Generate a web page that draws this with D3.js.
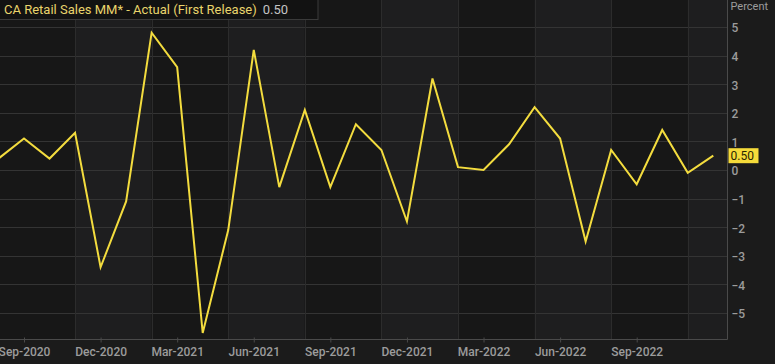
<!DOCTYPE html>
<html>
<head>
<meta charset="utf-8">
<script src="https://cdn.jsdelivr.net/npm/d3@7"></script>
<style>
  html, body { margin: 0; padding: 0; background: #1b1b1b; }
  svg { display: block; }
</style>
</head>
<body>
<svg id="chart" width="775" height="364"></svg>
<script>
// ---- data ----
const months = ["Aug-2020","Sep-2020","Oct-2020","Nov-2020","Dec-2020","Jan-2021","Feb-2021","Mar-2021","Apr-2021","May-2021","Jun-2021","Jul-2021","Aug-2021","Sep-2021","Oct-2021","Nov-2021","Dec-2021","Jan-2022","Feb-2022","Mar-2022","Apr-2022","May-2022","Jun-2022","Jul-2022","Aug-2022","Sep-2022","Oct-2022","Nov-2022","Dec-2022"];
const values = [0.4, 1.1, 0.4, 1.3, -3.4, -1.1, 4.8, 3.6, -5.7, -2.1, 4.2, -0.6, 2.1, -0.6, 1.6, 0.7, -1.8, 3.2, 0.1, 0.0, 0.9, 2.2, 1.1, -2.5, 0.7, -0.5, 1.4, -0.1, 0.5];
const tickLabels = ["Sep-2020","Dec-2020","Mar-2021","Jun-2021","Sep-2021","Dec-2021","Mar-2022","Jun-2022","Sep-2022"];
const yTicks = [-5,-4,-3,-2,-1,0,1,2,3,4,5];
const seriesName = "CA Retail Sales MM* - Actual (First Release)";
const lastLabel = "0.50";
const unitLabel = "Percent";

// ---- layout ----
const W = 775, H = 364;
const plot = {left: 0, right: 727.5, top: 0, bottom: 339.5};
const svg = d3.select("#chart");

const x = d3.scaleLinear().domain([1, 25]).range([24, 636.7]);
const y = d3.scaleLinear().domain([-5, 5]).range([313, 27]);

// background
svg.append("rect").attr("x",0).attr("y",0).attr("width",W).attr("height",H).attr("fill","#1b1b1b");

// alternating bands (boundaries every quarter, starting Nov-2020)
const bounds = [];
for (let i = 3; i <= months.length - 1; i += 3) bounds.push(i);
const edges = [plot.left, ...bounds.map(b => x(b)), plot.right];
for (let k = 0; k < edges.length - 1; k++) {
  svg.append("rect")
    .attr("x", edges[k]).attr("y", plot.top)
    .attr("width", edges[k+1] - edges[k]).attr("height", plot.bottom - plot.top)
    .attr("fill", k % 2 === 0 ? "#171717" : "#1e1e1f");
}

// horizontal grid
svg.append("g").selectAll("line").data(yTicks).join("line")
  .attr("x1", plot.left).attr("x2", plot.right)
  .attr("y1", d => Math.round(y(d)) + 0.5).attr("y2", d => Math.round(y(d)) + 0.5)
  .attr("stroke", "#343434").attr("stroke-width", 1);

// vertical band lines
svg.append("g").selectAll("line").data(bounds).join("line")
  .attr("x1", d => Math.round(x(d)) + 0.5).attr("x2", d => Math.round(x(d)) + 0.5)
  .attr("y1", plot.top).attr("y2", plot.bottom)
  .attr("stroke", "#2c2c2c").attr("stroke-width", 1);

// plot border right & bottom
svg.append("line").attr("x1", plot.right).attr("x2", plot.right)
  .attr("y1", plot.top).attr("y2", plot.bottom).attr("stroke", "#4a4a4a");
svg.append("line").attr("x1", plot.left).attr("x2", plot.right)
  .attr("y1", plot.bottom).attr("y2", plot.bottom).attr("stroke", "#4a4a4a");

// x axis
const tickIdx = tickLabels.map(l => months.indexOf(l));
const xAxis = d3.axisBottom(x).tickValues(tickIdx)
  .tickFormat(d => months[d]).tickSize(5).tickSizeOuter(0);
const gx = svg.append("g").attr("transform", `translate(0,${plot.bottom})`).call(xAxis);
gx.select(".domain").remove();
gx.selectAll(".tick line").attr("stroke", "#4a4a4a").attr("y1", -2).attr("y2", 3);
gx.selectAll(".tick text").attr("fill", "#9c9c9c").attr("font-family", "Roboto, sans-serif")
  .attr("font-size", 12).attr("font-weight", 500).attr("dy", "0.95em").attr("y", 5);

// y axis (right)
const yAxis = d3.axisRight(y).tickValues(yTicks).tickFormat(d3.format("d")).tickSize(0);
const gy = svg.append("g").attr("transform", `translate(${plot.right},0)`).call(yAxis);
gy.select(".domain").remove();
gy.selectAll(".tick text").attr("fill", "#9c9c9c").attr("font-family", "Roboto, sans-serif")
  .attr("font-size", 12).attr("font-weight", 500).attr("x", 4).attr("dy", "0.4em")
  .attr("text-anchor", "start");

svg.append("text").attr("x", plot.right + 3).attr("y", 10)
  .attr("fill", "#9c9c9c").attr("font-family", "Roboto, sans-serif")
  .attr("font-size", 11).text(unitLabel);

// clip
svg.append("clipPath").attr("id", "clip").append("rect")
  .attr("x", plot.left).attr("y", plot.top)
  .attr("width", plot.right - plot.left).attr("height", plot.bottom - plot.top);

// line
const line = d3.line().x((d, i) => x(i)).y(d => y(d));
svg.append("path").datum(values)
  .attr("clip-path", "url(#clip)")
  .attr("d", line).attr("fill", "none")
  .attr("stroke", "#f3dc3e").attr("stroke-width", 2).attr("stroke-linejoin", "miter");

// last value tag
const lastY = y(values[values.length - 1]);
svg.append("rect").attr("x", plot.right + 1).attr("y", lastY - 7.5)
  .attr("width", 30).attr("height", 15).attr("fill", "#f5db3a");
svg.append("text").attr("x", plot.right + 3).attr("y", lastY + 4.5)
  .attr("fill", "#2a2500").attr("font-family", "Roboto, sans-serif")
  .attr("font-size", 12).text(lastLabel);

// legend box
const lg = svg.append("g");
lg.append("rect").attr("x", -1).attr("y", -1).attr("width", 319).attr("height", 20.5)
  .attr("fill", "#121212").attr("stroke", "#3a3a3a");
const lt = lg.append("text").attr("x", 4).attr("y", 14)
  .attr("font-family", "Roboto, sans-serif").attr("font-size", 13);
lt.append("tspan").attr("fill", "#e9d46c").text(seriesName);
lt.append("tspan").attr("fill", "#c4c4c4").attr("dx", 6).text(lastLabel);
</script>
</body>
</html>
